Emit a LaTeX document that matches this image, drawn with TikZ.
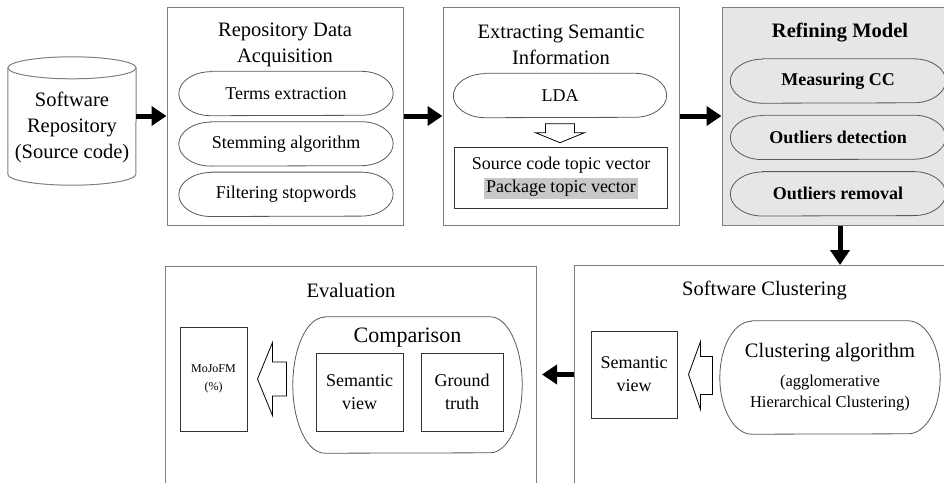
\documentclass[tikz,border=0pt]{standalone}
\usepackage{fontspec}
\setmainfont{Liberation Serif}
\usepackage{xcolor}
\usetikzlibrary{arrows.meta, positioning, calc}
\definecolor{framegray}{HTML}{7F7F7F}
\definecolor{pillgray}{HTML}{595959}
\definecolor{refinefill}{HTML}{E6E6E6}
\definecolor{markgray}{HTML}{C8C8C8}
\setlength{\fboxsep}{2pt}

\begin{document}
\begin{tikzpicture}[
    x=1pt, y=1pt,
    bigtext/.style={font=\fontsize{20.5}{26}\selectfont, align=center},
    midtext/.style={font=\fontsize{18}{23}\selectfont, align=center},
    panel/.style={rectangle, draw=framegray, line width=1pt, inner sep=0pt,
                  minimum width=236pt, minimum height=218pt},
    pill/.style={rectangle, inner sep=0pt, minimum width=214pt, minimum height=44pt,
                 font=\fontsize{18}{23}\selectfont, align=center},
    pillline/.style={draw=pillgray, line width=0.8pt},
    innerbox/.style={rectangle, draw=black!80, line width=1pt, inner sep=0pt,
                     font=\fontsize{18}{23}\selectfont, align=center},
    hollow/.style={draw=black, line width=0.8pt, line join=miter},
    bigarrow/.style={-{Triangle[length=15pt, width=19pt]}, line width=5pt}
]
\useasboundingbox (0,0) rectangle (944,-482);
\clip (0,0) rectangle (944,-482);

% source repository
\node[minimum width=128pt, minimum height=128pt, inner sep=0pt] (repo) at (72,-121) {};
\draw[framegray, line width=1pt] ($(repo.north west)+(0,-11)$) -- ($(repo.south west)+(0,11)$)
    arc[start angle=180, end angle=360, x radius=64, y radius=11] -- ($(repo.north east)+(0,-11)$);
\draw[framegray, line width=1pt] ($(repo.north)+(0,-11)$) ellipse[x radius=64, y radius=11];
\node[bigtext] (repotext) at ($(repo.center)+(0,-6)$) {Software\\Repository\\(Source code)};

% top row
\node[panel] (acq) at (285,-116) {};
\node[panel, right=39pt of acq] (sem) {};
\node[panel, fill=refinefill, right=42pt of sem] (refine) {};

\node[bigtext] (acqtitle) at ($(acq.north)+(0,-38)$) {Repository Data\\Acquisition};
\node[bigtext] (semtitle) at ($(sem.north)+(0,-38)$) {Extracting Semantic\\Information};
\node[bigtext, font=\fontsize{20.5}{26}\selectfont\bfseries] (reftitle) at ($(refine.north)+(0,-26)$) {Refining Model};

\node[pill] (terms) at ($(acq.north)+(1,-87)$) {Terms extraction};
\node[pill, below=6pt of terms] (stem) {Stemming algorithm};
\node[pill, below=6pt of stem] (stop) {Filtering stopwords};

\node[pill, minimum width=213pt] (lda) at ($(sem.north)+(-1,-89)$) {LDA};
\node[innerbox, minimum width=213pt, minimum height=61pt] (vec) at ($(sem.north)+(0,-171.5)$)
    {Source code topic vector\\\colorbox{markgray}{Package topic vector}};
\draw[hollow] ($(lda.south)+(-14.5,-6)$) -- ++(29,0) -- ++(0,-9) -- ++(10,0)
    -- ++(-24.5,-10) -- ++(-24.5,10) -- ++(10,0) -- cycle;

\node[pill, font=\fontsize{18}{23}\selectfont\bfseries, minimum width=215pt] (cc) at ($(refine.north)+(-2,-74.5)$) {Measuring CC};
\node[pill, font=\fontsize{18}{23}\selectfont\bfseries, minimum width=215pt, below=12pt of cc] (odet) {Outliers detection};
\node[pill, font=\fontsize{18}{23}\selectfont\bfseries, minimum width=215pt, below=12pt of odet] (orem) {Outliers removal};

% bottom row
\node[panel, minimum width=380pt, minimum height=240pt, anchor=north west] (clus) at (574,-265) {};
\node[panel, minimum width=371pt, minimum height=240pt, anchor=north west] (eval) at (165,-266) {};

\node[bigtext] (clustitle) at ($(clus.north)+(0,-25)$) {Software Clustering};
\node[bigtext] (evaltitle) at ($(eval.north)+(0,-24)$) {Evaluation};

\node[innerbox, minimum width=86pt, minimum height=87pt] (semv) at (634,-374.5) {Semantic\\view};
\node[pill, minimum width=220pt, minimum height=113pt, font=\fontsize{16.5}{21}\selectfont] (algo) at (830,-377.5)
    {{\fontsize{20.5}{26}\selectfont Clustering algorithm}\\[8pt](agglomerative\\Hierarchical Clustering)};
\draw[hollow] ($(semv.east)+(11,0)$) -- ++(12,33) -- ++(0,-15) -- ++(12,0)
    -- ++(0,-38) -- ++(-12,0) -- ++(0,-15) -- cycle;

\node[innerbox, font=\fontsize{12}{18}\selectfont, minimum width=67pt, minimum height=104pt] (mojo) at (213.5,-379) {MoJoFM\\(\%)};
\node[pill, minimum width=229pt, minimum height=136pt] (comp) at (407.5,-385) {};
\node[bigtext, font=\fontsize{22}{26}\selectfont] (comptitle) at ($(comp.north)+(0,-21)$) {Comparison};
\node[innerbox, minimum width=87pt, minimum height=78pt] (semv2) at (359.5,-392) {Semantic\\view};
\node[innerbox, minimum width=82pt, minimum height=78pt, right=17pt of semv2] (truth) {Ground\\truth};
\draw[hollow] ($(mojo.east)+(10,0)$) -- ++(15,36.5) -- ++(0,-19.5) -- ++(14,0)
    -- ++(0,-34) -- ++(-14,0) -- ++(0,-19.5) -- cycle;

% pill outlines
\foreach \n/\ry in {terms/22, stem/22, stop/22, lda/22, cc/22, odet/22, orem/22, algo/56.5, comp/68}
    \draw[pillline] ($(\n.north west)+(32,0)$) -- ($(\n.north east)+(-32,0)$)
        arc[start angle=90, end angle=-90, x radius=32, y radius=\ry]
        -- ($(\n.south west)+(32,0)$)
        arc[start angle=270, end angle=90, x radius=32, y radius=\ry] -- cycle;

% flow
\draw[bigarrow] (repo.east |- acq.west) -- (acq.west);
\draw[bigarrow] (acq.east) -- (sem.west);
\draw[bigarrow] (sem.east) -- (refine.west);
\draw[bigarrow] (refine.south) -- (refine.south |- clus.north);
\draw[bigarrow, shorten >=5pt] (semv -| clus.west) -- (semv -| eval.east);

\end{tikzpicture}
\end{document}
